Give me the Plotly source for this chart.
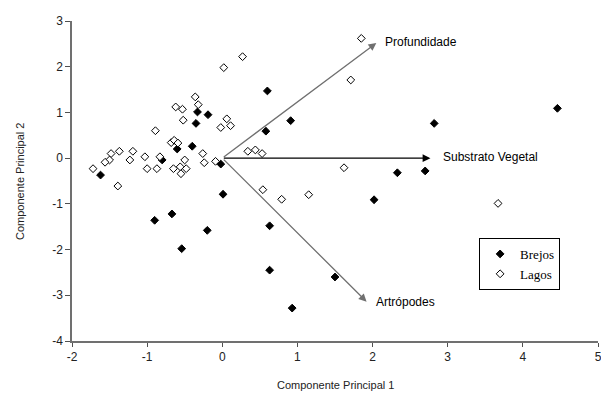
import plotly.graph_objects as go

# Brejos (filled diamonds)
brejos_x = [-0.33, -0.19, -0.35, -0.40, -0.60, -0.80, -0.02, -1.62, 0.01, -0.67, -0.90, -0.20, -0.54,
            0.60, 0.91, 0.58, 2.33, 2.02, 0.63, 0.63, 1.50, 0.93, 4.46, 2.82, 2.70]
brejos_y = [1.01, 0.95, 0.76, 0.26, 0.20, -0.04, -0.13, -0.37, -0.79, -1.22, -1.36, -1.58, -1.98,
            1.47, 0.82, 0.59, -0.32, -0.91, -1.48, -2.45, -2.60, -3.28, 1.09, 0.76, -0.28]

# Lagos (open diamonds)
lagos_x = [-0.36, -0.32, -0.62, -0.53, -0.52, 0.06, -0.02, 0.11, -0.89, -0.68, -0.64, -0.59, -0.26,
           -0.24, -0.09, -0.50, -0.83, -1.03, -1.23, -1.19, -1.37, -1.48, -1.50, -1.56, -1.72, -1.39,
           -1.00, -0.87, -0.65, -0.56, -0.48, -0.55, 1.85, 0.27, 0.02, 1.71, 0.34, 0.44, 0.53, 1.62,
           0.54, 0.79, 1.15, 3.67]
lagos_y = [1.34, 1.17, 1.12, 1.07, 0.83, 0.86, 0.67, 0.71, 0.60, 0.34, 0.39, 0.33, 0.10,
           -0.10, -0.07, -0.04, 0.03, 0.03, -0.04, 0.15, 0.15, 0.10, -0.04, -0.09, -0.23, -0.61,
           -0.23, -0.23, -0.23, -0.19, -0.23, -0.34, 2.62, 2.22, 1.98, 1.71, 0.15, 0.18, 0.10, -0.21,
           -0.69, -0.90, -0.80, -0.99]

# Loading vectors (arrows from origin)
vec_names = ["Profundidade", "Substrato Vegetal", "Artrópodes"]
vec_x = [2.05, 2.77, 1.92]
vec_y = [2.52, 0.0, -3.14]
vec_label_x = [2.14, 2.91, 2.02]
vec_label_y = [2.54, 0.03, -3.15]
vec_colors = ["#707070", "#000000", "#707070"]

x_ticks = [-2, -1, 0, 1, 2, 3, 4, 5]
y_ticks = [-4, -3, -2, -1, 0, 1, 2, 3]
x_title = "Componente Principal 1"
y_title = "Componente Principal 2"

fig = go.Figure()
fig.add_trace(go.Scatter(
    x=brejos_x, y=brejos_y, mode="markers", name="Brejos",
    marker=dict(symbol="diamond", size=6, color="black", line=dict(color="black", width=1)),
))
fig.add_trace(go.Scatter(
    x=lagos_x, y=lagos_y, mode="markers", name="Lagos",
    marker=dict(symbol="diamond", size=6, color="white", line=dict(color="black", width=1)),
))

sans = "Arial, Liberation Sans, sans-serif"
annotations = []
for name, vx, vy, lx, ly, c in zip(vec_names, vec_x, vec_y, vec_label_x, vec_label_y, vec_colors):
    annotations.append(dict(
        x=vx, y=vy, ax=0, ay=0, xref="x", yref="y", axref="x", ayref="y",
        text="", showarrow=True, arrowhead=2, arrowsize=1.2, arrowwidth=1.3,
        arrowcolor=c, standoff=0, startstandoff=0,
    ))
    annotations.append(dict(
        x=lx, y=ly, xref="x", yref="y", text=name, showarrow=False,
        xanchor="left", yanchor="middle",
        font=dict(family=sans, size=12, color="black"),
    ))

title_font = dict(family=sans, size=11, color="#222222")
annotations.append(dict(
    x=0.5, y=-0.1375, xref="paper", yref="paper", text=x_title, showarrow=False,
    xanchor="center", yanchor="middle", font=title_font,
))
annotations.append(dict(
    x=-0.0989, y=0.5, xref="paper", yref="paper", text=y_title, showarrow=False,
    xanchor="center", yanchor="middle", textangle=-90, font=title_font,
))

axis_font = dict(family=sans, size=12, color="#222222")

fig.update_layout(
    width=601, height=408,
    margin=dict(l=72, r=3, t=21, b=67, autoexpand=False),
    paper_bgcolor="white", plot_bgcolor="white",
    annotations=annotations,
    showlegend=True,
    legend=dict(
        x=0.774, y=0.322, xanchor="left", yanchor="top",
        bordercolor="black", borderwidth=1, bgcolor="white",
        font=dict(family="Times New Roman, Liberation Serif, serif", size=13, color="black"),
        itemwidth=30, tracegroupgap=0,
    ),
    xaxis=dict(
        range=[-2, 5], tickvals=x_ticks, ticktext=[str(v) for v in x_ticks],
        showgrid=False, zeroline=False, showline=True, linecolor="#707070", linewidth=1.5,
        ticks="outside", ticklen=4, tickcolor="#505050", tickfont=axis_font,
        automargin=False, ticklabeloverflow="allow",
    ),
    yaxis=dict(
        range=[-4, 3], tickvals=y_ticks, ticktext=[str(v) for v in y_ticks],
        showgrid=False, zeroline=False, showline=True, linecolor="#707070", linewidth=1.5,
        ticks="outside", ticklen=5, tickcolor="#505050", tickfont=axis_font,
        automargin=False, ticklabeloverflow="allow",
    ),
)

fig.write_html(
    "out.html",
    config={"displayModeBar": False},
    post_script="document.body.style.margin='0';document.body.style.overflow='hidden';",
)
